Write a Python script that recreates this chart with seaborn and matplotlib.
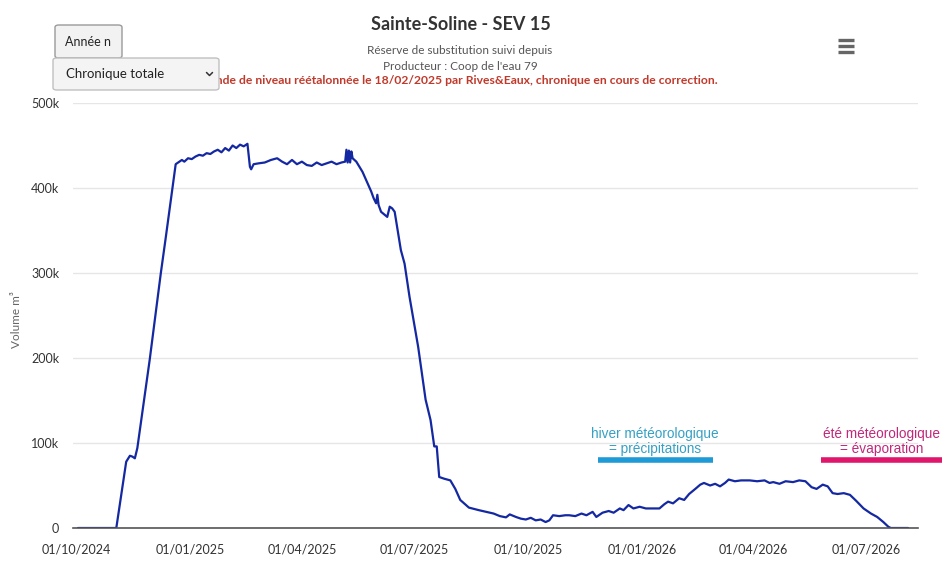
import numpy as np
import pandas as pd
import matplotlib
matplotlib.use("Agg")
import matplotlib.pyplot as plt
import matplotlib.dates as mdates
from matplotlib.patches import FancyBboxPatch
from matplotlib.lines import Line2D
from matplotlib.ticker import FuncFormatter
import seaborn as sns

# Volume series: day offsets from start_date, volume in m3
start_date = "2024-10-01"
days = [1, 30, 32, 40, 43, 45, 47, 49, 59, 68, 72, 80, 82, 85, 87, 90, 93, 96, 99,
        102, 105, 108, 111, 114, 117, 120, 123, 126, 129, 132, 135, 138, 140, 141,
        143, 147, 152, 157, 162, 166, 170, 174, 178, 182, 186, 190, 194, 198, 202,
        206, 210, 214, 217, 218, 219, 220, 221, 222, 223, 226, 231, 238, 240, 242,
        243, 244, 246, 251, 253, 255, 257, 262, 265, 269, 276, 282, 286, 289, 291,
        293, 297, 302, 306, 310, 317, 325, 331, 337, 342, 347, 350, 355, 359, 363,
        367, 371, 375, 379, 382, 385, 390, 395, 398, 403, 408, 412, 417, 420, 425,
        430, 434, 439, 442, 446, 450, 455, 460, 466, 471, 475, 478, 482, 487, 491,
        495, 500, 504, 507, 512, 516, 520, 524, 527, 532, 537, 544, 550, 556, 560,
        563, 568, 573, 579, 584, 589, 594, 598, 603, 607, 611, 615, 620, 625, 630,
        636, 642, 647, 652, 656, 658, 672]
volume_k = [0, 0, 0, 78, 85, 84, 82, 94, 198, 300, 342, 428, 430, 433, 431, 435, 434,
            437, 439, 438, 441, 440, 443, 445, 442, 447, 444, 450, 447, 451, 449, 452,
            425, 422, 428, 429, 430, 433, 435, 431, 428, 433, 428, 431, 427, 426, 430,
            427, 429, 431, 428, 430, 431, 445, 430, 444, 430, 443, 435, 431, 419, 396,
            388, 382, 392, 380, 372, 366, 378, 376, 372, 327, 311, 272, 213, 151, 127,
            96, 96, 60, 58, 56, 46, 33, 24, 21, 19, 17, 14, 12.5, 16, 13, 11, 10, 12,
            9, 10, 7, 9, 15, 14, 15, 15, 14, 17, 15, 19, 13, 18, 20, 18, 23, 21, 27,
            23, 25, 23, 23, 23, 28, 31, 29, 35, 33, 40, 46, 51, 53, 50, 52, 49, 53,
            57, 55, 56, 56, 55, 56, 53, 54, 52, 55, 54, 56, 55, 48, 46, 51, 49, 41,
            40, 41, 39, 32, 23, 17, 13, 7, 1.5, 0, 0]

tick_dates = ["2024-10-01", "2025-01-01", "2025-04-01", "2025-07-01",
              "2025-10-01", "2026-01-01", "2026-04-01", "2026-07-01"]
y_ticks = [0, 100000, 200000, 300000, 400000, 500000]

winter_span = ["2025-11-26", "2026-02-27"]
summer_span = ["2026-05-26", "2026-08-31"]
band_level = 80000

df = pd.DataFrame({
    "date": pd.Timestamp(start_date) + pd.to_timedelta(days, unit="D"),
    "volume": np.array(volume_k) * 1000,
})

sns.set_theme(style="white")
plt.rcParams["font.family"] = ["Lato", "DejaVu Sans"]

W, H = 945, 571
fig = plt.figure(figsize=(W / 100, H / 100), dpi=100)
ax = fig.add_axes([73 / W, 1 - 528 / H, (918 - 73) / W, (528 - 103) / H])


def fx(px):
    return px / W


def fy(py):
    return 1 - py / H


sns.lineplot(data=df, x="date", y="volume", ax=ax, color="#1428a2", linewidth=1.6)

ax.set_xlim(pd.Timestamp(start_date) - pd.Timedelta(days=3),
            pd.Timestamp(start_date) + pd.Timedelta(days=680))
ax.set_ylim(0, 500000)
ax.set_xticks(pd.to_datetime(tick_dates))
ax.xaxis.set_major_formatter(mdates.DateFormatter("%d/%m/%Y"))
ax.set_yticks(y_ticks)
ax.yaxis.set_major_formatter(FuncFormatter(lambda v, p: "0" if v == 0 else f"{int(v / 1000)}k"))
ax.grid(axis="y", color="#e6e6e6", linewidth=1)
ax.set_axisbelow(True)
for s in ["top", "right", "left"]:
    ax.spines[s].set_visible(False)
ax.spines["bottom"].set_color("#555555")
ax.spines["bottom"].set_linewidth(1.2)
ax.tick_params(axis="x", length=7, width=1, color="#555555", labelsize=9,
               labelcolor="#333333", pad=4)
ax.tick_params(axis="y", length=0, labelsize=9, labelcolor="#333333", pad=10)
ax.set_xlabel("")
ax.set_ylabel("")
fig.text(fx(16), fy(320), "Volume m³", rotation=90, ha="center", va="center",
         fontsize=8.5, color="#666666")

# season bands
wa, wb = pd.to_datetime(winter_span)
sa, sb = pd.to_datetime(summer_span)
ax.plot([wa, wb], [band_level, band_level], color="#1e9ad6", linewidth=4,
        solid_capstyle="butt", clip_on=False)
ax.plot([sa, sb], [band_level, band_level], color="#e0156c", linewidth=4,
        solid_capstyle="butt", clip_on=False)
ax.text(wa + (wb - wa) / 2, 101500, "hiver météorologique\n= précipitations",
        ha="center", va="center", fontsize=9.8, color="#36a0c4",
        family=["Liberation Sans", "DejaVu Sans"], linespacing=1.05)
ax.text(sa + (sb - sa) / 2, 101500, "été météorologique\n= évaporation",
        ha="center", va="center", fontsize=9.8, color="#c0287a",
        family=["Liberation Sans", "DejaVu Sans"], linespacing=1.05, clip_on=False)

# titles
fig.text(fx(461), fy(25), "Sainte-Soline - SEV 15", ha="center", va="center",
         fontsize=13, color="#333333", weight="bold")
fig.text(fx(460), fy(51), "Réserve de substitution suivi depuis", ha="center",
         va="center", fontsize=8.5, color="#555555")
fig.text(fx(460), fy(66), "Producteur : Coop de l'eau 79", ha="center",
         va="center", fontsize=8.5, color="#555555")
fig.text(fx(460), fy(80),
         "Sonde de niveau réétalonnée le 18/02/2025 par Rives&Eaux, chronique en cours de correction.",
         ha="center", va="center", fontsize=8.75, color="#c0392b", weight="bold", zorder=1)

# controls
btn1 = FancyBboxPatch((fx(55), fy(58)), fx(67), 33 / H, boxstyle="round,pad=0,rounding_size=0.004",
                      transform=fig.transFigure, facecolor="#f2f2f2", edgecolor="#9a9a9a",
                      linewidth=1, zorder=5)
btn2 = FancyBboxPatch((fx(53), fy(90)), fx(166), 32 / H, boxstyle="round,pad=0,rounding_size=0.004",
                      transform=fig.transFigure, facecolor="#f4f4f4", edgecolor="#c0c0c0",
                      linewidth=1, zorder=5)
fig.patches.extend([btn1, btn2])
fig.text(fx(88.5), fy(41.5), "Année n", ha="center", va="center", fontsize=9,
         color="#222222", zorder=6)
fig.text(fx(66), fy(74), "Chronique totale", ha="left", va="center", fontsize=9.5,
         color="#222222", zorder=6)
fig.add_artist(Line2D([fx(206.5), fx(209.5), fx(212.5)], [fy(72.5), fy(75.5), fy(72.5)],
                      color="#333333", linewidth=1.1, zorder=6))
for yy in [40, 46, 52]:
    fig.add_artist(Line2D([fx(838), fx(854)], [fy(yy), fy(yy)], color="#666666",
                          linewidth=2.4, solid_capstyle="butt", zorder=6))

fig.savefig("out.png", dpi=100, facecolor="white")
